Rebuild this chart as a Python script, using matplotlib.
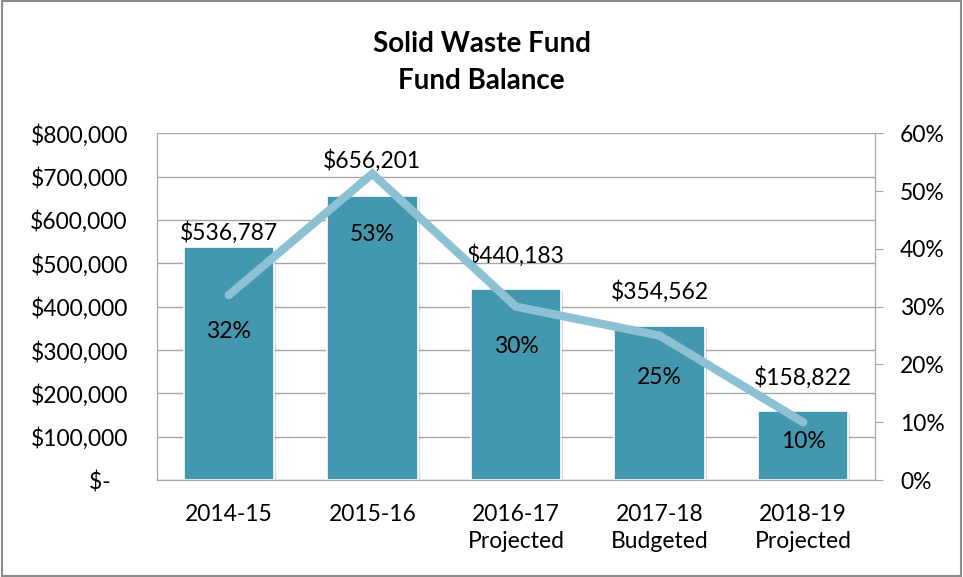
import matplotlib
matplotlib.use("Agg")
import matplotlib.pyplot as plt
import matplotlib.patheffects as pe
from matplotlib.ticker import FuncFormatter, PercentFormatter
from matplotlib.patches import Rectangle

# === Data ===
years = ["2014-15", "2015-16", "2016-17\nProjected", "2017-18\nBudgeted", "2018-19\nProjected"]
balance = [536787, 656201, 440183, 354562, 158822]
pct = [32, 53, 30, 25, 10]

# label offsets (points) - hand tweaked like the original
bal_off = [11, 25, 24, 25, 24]
pct_off = [-26, -44, -29, -30, -14]

BAR_C = "#4397AF"
LINE_C = "#8CC0D3"
GRID_C = "#A6A6A6"
FS = 16.5

plt.rcParams["font.family"] = ["Lato", "DejaVu Sans"]

fig = plt.figure(figsize=(9.63, 5.77), dpi=100)
fig.patches.append(Rectangle((0.002, 0.002), 0.996, 0.996, transform=fig.transFigure,
                             fill=False, edgecolor="#8C8C8C", linewidth=1.5))

ax = fig.add_axes([0.163, 0.168, 0.7456, 0.601])
x = list(range(len(years)))
bars = ax.bar(x, balance, width=0.63, color=BAR_C, edgecolor="white", linewidth=1.2, zorder=2)
for b in bars:
    b.set_path_effects([pe.SimplePatchShadow(offset=(1.5, -1.5), alpha=0.18), pe.Normal()])
ax.set_ylim(0, 800000)
ax.set_xlim(-0.5, len(years) - 0.5)
ax.yaxis.set_major_locator(plt.MultipleLocator(100000))
ax.yaxis.set_major_formatter(FuncFormatter(lambda v, p: "$-   " if v == 0 else f"${v:,.0f}"))
ax.grid(axis="y", color=GRID_C, linewidth=1, zorder=0)
ax.set_xticks(x)
ax.set_xticklabels(years, fontsize=FS, linespacing=1.4)
ax.tick_params(axis="y", labelsize=FS, length=0, pad=21)
ax.tick_params(axis="x", length=0, pad=17)
for s in ["left", "bottom", "right", "top"]:
    ax.spines[s].set_color(GRID_C)
ax.spines["top"].set_visible(False)

for i, v in enumerate(balance):
    ax.annotate(f"${v:,.0f}", (i, v), xytext=(0, bal_off[i]), textcoords="offset points",
                ha="center", va="center", fontsize=FS, zorder=5)

ax2 = ax.twinx()
ax2.plot(x, pct, color=LINE_C, linewidth=6, solid_capstyle="round", solid_joinstyle="miter", zorder=3)
ax2.set_ylim(0, 60)
ax2.yaxis.set_major_locator(plt.MultipleLocator(10))
ax2.yaxis.set_major_formatter(PercentFormatter(decimals=0))
ax2.tick_params(axis="y", labelsize=FS, length=6, color=GRID_C, pad=12)
for s in ["left", "bottom", "right", "top"]:
    ax2.spines[s].set_color(GRID_C)
ax2.spines["top"].set_visible(False)

for i, v in enumerate(pct):
    ax2.annotate(f"{v}%", (i, v), xytext=(0, pct_off[i]), textcoords="offset points",
                 ha="center", va="center", fontsize=FS, zorder=5)

fig.text(0.5, 0.892, "Solid Waste Fund\nFund Balance", ha="center", va="center",
         fontsize=20, fontweight="bold", linespacing=1.55)

fig.savefig("out.png", dpi=100)
